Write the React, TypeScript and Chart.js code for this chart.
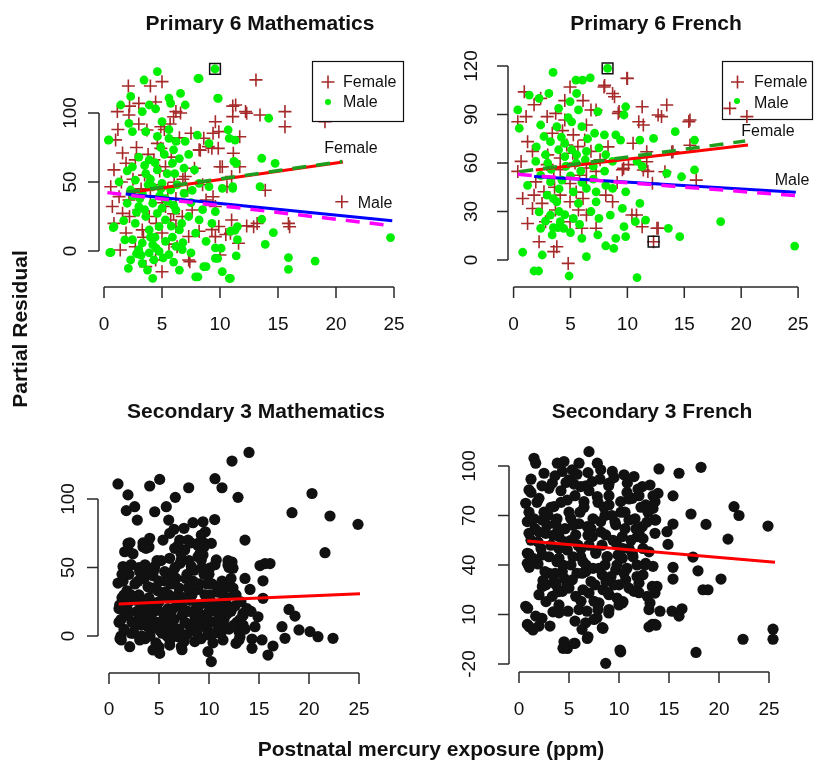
import React, { useEffect, useRef } from "react";
import { Chart, registerables } from "chart.js";
Chart.register(...registerables);

// ---------------- DATA ----------------
const xTicks = [0, 5, 10, 15, 20, 25];
const p6MathYTicks = [0, 50, 100];
const p6FrenchYTicks = [0, 30, 60, 90, 120];
const s3MathYTicks = [0, 50, 100];
const s3FrenchYTicks = [-20, 10, 40, 70, 100];

const panelTitles = ["Primary 6 Mathematics", "Primary 6 French", "Secondary 3 Mathematics", "Secondary 3 French"];
const yAxisTitle = "Partial Residual";
const xAxisTitle = "Postnatal mercury exposure (ppm)";
const legendLabels = ["Female", "Male"];

// Primary 6 Mathematics
const p6MathFemale = [
  [2.1, 119.6], [4.0, 119.6], [5.0, 122.7], [3.0, 107], [4.45, 108], [1.15, 101], [2.15, 98.6], [6.2, 101], [6.0, 97.3],
  [4.9, 90], [3.7, 87.7], [7.5, 85.3], [9.6, 93.7], [11.35, 105.8], [12.2, 101], [13.1, 124], [11.1, 97.4], [9.9, 86.5],
  [8.6, 81.7], [9.3, 74.5], [8.2, 73.3], [1.0, 80.5], [1.6, 71], [1.9, 63.6], [0.86, 58.8], [2.7, 66], [4.9, 74.4],
  [4.3, 66], [5.3, 61], [7.0, 54], [6.05, 49.8], [10.2, 61], [11.0, 53.9], [0.58, 46.6], [1.3, 39.4], [0.72, 32.2],
  [2.15, 37], [3.0, 29.7], [1.6, 27.3], [3.9, 25], [5.3, 32.2], [5.75, 22.5], [6.75, 25], [7.6, 29.7], [8.8, 37],
  [9.6, 32.2], [11.0, 22.5], [9.9, 17.7], [0.86, 20], [1.9, 13], [3.3, 15.3], [5.0, 13], [6.2, 17.7], [7.3, 10.5],
  [8.2, 14.3], [9.3, 15.5], [10.5, 12], [1.4, 0.7], [2.7, 3.1], [4.45, -6.5], [5.0, -15], [3.6, -11.3], [7.3, -6.5],
  [6.3, 3.1], [13.45, 98.5], [15.6, 101], [15.6, 90], [19.05, 93.7], [13.9, 44], [15.9, 20], [20.5, 35.7], [13.2, 20],
  [11.1, 105], [12.3, 99.8], [11.7, 82.8], [11.15, 70.8], [9.85, 74.4], [12.9, 17.6], [12.3, 18.2], [16.0, 17.6],
  [7.4, -7.7], [10, -2.9], [11.6, 5.6], [9.6, 10.4], [10.9, 12.8], [9.4, 39.3], [10.6, 46.6], [10, 61], [11.7, 61],
  [8.3, 73], [9.4, 85.3], [9.0, 75.6], [3.5, 55], [4.2, 48], [4.8, 58], [5.5, 45], [6.2, 38], [5.0, 35], [4.0, 40],
  [3.2, 45], [2.5, 52], [6.8, 52], [7.2, 44], [5.8, 68], [4.6, 78], [3.8, 70], [2.8, 75], [6.5, 82], [5.2, 88],
  [6.0, 27], [4.5, 20], [3.4, 10], [5.6, 5], [2.2, 25], [1.5, 50], [7.8, 60], [8.5, 48], [6.6, 100], [5.7, 92],
  [3.0, 92], [2.2, 105], [1.2, 88],
];
const p6MathMale = [
  [4.6, 130], [3.45, 123.9], [2.3, 112], [1.44, 105.8], [3.9, 105.8], [5.6, 110.8], [6.6, 114.2], [7.0, 105.8],
  [8.2, 125], [9.8, 110.8], [5.75, 107], [3.3, 101], [4.45, 103], [5.0, 93.7], [2.15, 92.5], [0.43, 80.5], [2.45, 86.5],
  [3.6, 86.5], [4.6, 83], [5.6, 81.6], [4.9, 75], [6.2, 79.5], [7.0, 79.5], [6.0, 73.3], [8.05, 84], [9.05, 78],
  [11.2, 65], [10.8, 81.6], [3.0, 68], [3.9, 66], [2.45, 61], [3.6, 56], [4.6, 58.8], [5.45, 56], [5.9, 63.6],
  [6.5, 67], [7.8, 58.8], [2.7, 51.4], [5.0, 49], [4.2, 46.6], [1.3, 50], [2.3, 44.2], [3.3, 41.8], [5.75, 44.2],
  [6.9, 41.8], [8.2, 49], [9.05, 46.6], [10.2, 45.4], [11.1, 46.6], [2.0, 34.6], [3.0, 32.2], [4.2, 34.6], [5.0, 31],
  [3.6, 25], [4.6, 27.3], [5.3, 22.5], [6.2, 29.7], [7.3, 25], [8.2, 22.5], [9.6, 28.5], [2.7, 20], [0.86, 17.7],
  [3.9, 15.3], [4.75, 17.7], [6.5, 15.3], [7.9, 13], [9.3, 20], [10.9, 14.3], [11.5, 17.7], [2.45, 8.2], [3.3, 5.8],
  [4.2, 4.6], [5.3, 7], [6.2, 3.4], [3.0, 1.0], [3.9, -1.4], [4.75, -0.2], [5.6, -2.6], [6.75, 1], [7.5, -1.4],
  [8.8, 7], [9.6, 2.2], [0.6, -1], [2.3, -6.5], [3.3, -8.9], [4.3, -6.5], [4.2, -19.8], [3.75, -13.8], [6.5, -13.8],
  [7.9, -18.7], [8.8, -11.3], [9.8, -5.3], [10.2, -15], [10.8, -19.8], [11.5, 8.2], [14.2, 96.2], [13.6, 67.2],
  [14.75, 63.5], [13.45, 46.6], [13.6, 23], [14.6, 13.3], [13.9, 4.8], [15.9, -4.8], [15.9, -13.3], [18.2, -7.3],
  [24.7, 9.7], [11.3, 80.4], [10.7, 87.7], [9.85, 110.6], [8.1, 125], [9.57, 131.9], [11.4, 63.5], [11.1, 45.4],
  [11.3, 15.2], [10.1, 2], [10.9, -19.8], [9.6, -5.3], [11.4, -3.5], [8.6, -11.4], [8.1, -18.7], [0.5, -1.2],
  [0.37, 80.4], [0.8, 16.9], [2.1, -12.6], [4.0, 52], [4.8, 40], [5.5, 36], [6.3, 48], [3.5, 62], [5.2, 70],
  [2.8, 28], [1.7, 22], [6.8, 6], [7.5, 35], [4.4, 10], [5.8, 18], [3.1, 38], [6.1, 56], [2.0, 58], [7.3, 70],
  [2.5, 40], [3.5, 30], [4.9, 45], [5.3, 38], [6.0, 33], [6.7, 20], [4.0, 10], [3.2, -3], [5.1, -5], [6.0, -8],
  [2.8, -2], [4.5, 2], [5.9, 10], [3.8, 48], [4.4, 64], [5.6, 88], [6.9, 60], [7.6, 44], [8.5, 30], [1.8, 8],
];
const p6MathFlagged = [[9.57, 131.9]];
const p6MathFemaleFit = [[1.9, 42], [20.6, 64.5]];
const p6MathFemaleFitAlt = [[1.9, 42.5], [20.55, 64.9]];
const p6MathMaleFit = [[1.87, 41.3], [24.85, 22]];
const p6MathMaleFitAlt = [[0.29, 42.3], [24.85, 18.3]];

// Primary 6 French
const p6FrenchFemale = [
  [0.94, 104], [2.38, 100], [1.8, 96], [4.96, 107], [8.0, 108], [8.7, 103], [10.0, 112.3], [11.3, 94.8], [12.7, 89.7],
  [4.5, 98.6], [6.1, 98.6], [3.7, 90.7], [1.1, 88.7], [0.37, 85.5], [2.95, 88.7], [4.5, 86.6], [6.4, 83.5], [7.25, 92.8],
  [9.27, 91.8], [11.0, 85.5], [1.23, 73.2], [3.4, 78.4], [5.25, 77.4], [6.25, 74.2], [4.67, 71.1], [5.65, 70.1],
  [6.8, 67.2], [1.66, 67.2], [0.66, 61], [2.95, 59], [4.1, 63.1], [5.4, 60], [6.4, 56.9], [4.1, 55.8], [7.25, 54.8],
  [9.56, 55.8], [10.1, 59], [11.8, 54.8], [1.95, 48.3], [3.53, 50.4], [4.96, 47.3], [5.8, 52.4], [6.4, 49.4], [0.8, 38],
  [1.8, 40.1], [2.67, 42.2], [4.1, 40.1], [4.96, 36], [6.1, 38], [8.1, 40.1], [8.7, 36], [1.66, 31.9], [3.68, 30.9],
  [5.7, 30.9], [6.4, 27.8], [10.4, 27.8], [1.23, 22.6], [2.81, 23.7], [4.96, 23.7], [6.0, 19.6], [7.25, 19.6],
  [11.3, 20.6], [12.6, 19.6], [2.24, 11.3], [3.8, 8.2], [3.53, 5.2], [4.8, -2.1], [0.37, 54.8], [13.46, 95.9],
  [13.0, 88.7], [15.5, 86.6], [19.0, 93.8], [20.5, 88.7], [13.9, 66.8], [15.5, 71], [13.3, 54.6], [16.05, 49.4],
  [12.7, 19.6], [15.4, 85.6], [11.4, 83.5], [11.4, 55.7], [12.2, 47.4], [10.8, 27.8], [9.96, 112.4], [7.95, 107],
  [8.87, 101], [6.8, 92.8], [9.2, 90.7], [9.67, 56.7], [10.5, 72.2], [11.7, 67], [11.7, 60.8], [14.0, 67], [12.3, 11.3],
  [3.0, 65], [4.3, 80], [5.2, 66], [3.6, 45], [5.5, 42], [2.5, 35], [7.6, 62], [8.3, 70], [9.1, 48],
];
const p6FrenchMale = [
  [3.47, 116], [5.48, 111.3], [6.06, 111.3], [6.74, 112.7], [8.26, 118.5], [1.38, 102], [2.24, 100], [3.1, 103],
  [5.54, 103], [3.96, 93.8], [4.96, 98], [5.7, 92.8], [0.37, 92.8], [7.4, 91.8], [9.85, 94.8], [9.7, 89.7], [0.5, 81.5],
  [2.38, 83.5], [3.8, 82.5], [5.1, 85.5], [6.0, 82.5], [7.12, 78.4], [7.98, 77.4], [8.98, 77.4], [9.4, 74.2],
  [11.1, 74.2], [12.3, 75.2], [2.67, 76.4], [3.24, 73.2], [4.5, 72.2], [3.96, 68.2], [5.1, 68.2], [5.54, 65.1],
  [6.4, 67.2], [7.5, 69.3], [8.1, 65.1], [1.95, 61], [2.81, 65.1], [8.7, 61], [10.85, 61], [11.3, 57.9], [1.23, 46.2],
  [2.38, 52.4], [3.24, 48.3], [4.25, 49.4], [5.25, 42.2], [6.4, 44.3], [7.25, 42.2], [8.1, 46.2], [8.7, 44.3],
  [9.85, 42.2], [2.95, 40.1], [3.8, 36], [5.7, 35], [7.25, 36], [9.56, 31.9], [11.1, 35], [2.24, 29.8], [3.24, 27.8],
  [4.1, 23.7], [5.25, 25.7], [7.5, 25.7], [8.5, 27.8], [9.7, 20.6], [10.7, 23.7], [11.6, 24.7], [2.38, 19.6],
  [3.39, 15.5], [4.4, 19.6], [6.0, 13.4], [7.4, 15.5], [8.98, 13.4], [9.85, 14.4], [2.52, 3.1], [0.8, 4.8], [6.4, 2.1],
  [8.1, 8.8], [8.8, 7.2], [1.8, -6.8], [2.2, -6.8], [4.88, -9.9], [10.85, -10.9], [14.2, 79.4], [15.9, 74.2],
  [13.46, 53.6], [14.76, 51.5], [15.9, 55.7], [13.6, 19.6], [14.6, 14.4], [18.2, 23.7], [24.7, 8.6], [4.6, 58],
  [3.3, 56], [5.9, 55], [4.0, 30], [6.8, 30], [2.0, 70], [4.8, 88], [7.0, 50], [3.5, 20], [5.0, 17],
  [3.0, 60], [4.5, 64], [5.5, 60], [6.3, 62], [4.0, 44], [5.0, 52], [6.0, 48], [3.5, 38], [4.5, 28], [5.8, 22],
  [2.8, 24], [3.9, 20], [7.0, 58], [8.0, 55], [6.5, 75], [4.2, 76],
];
const p6FrenchFlagged = [[8.26, 118.5], [12.3, 11.3]];
const p6FrenchFemaleFit = [[1.95, 55.7], [20.6, 71.1]];
const p6FrenchFemaleFitAlt = [[0.5, 54.6], [20.35, 73.6]];
const p6FrenchMaleFit = [[1.8, 51.6], [24.8, 41.9]];
const p6FrenchMaleFitAlt = [[0.37, 53], [24.8, 39.8]];

// Secondary 3 Mathematics
const s3MathPoints = [
  [0.9, 111], [1.9, 103], [1.73, 91.5], [2.57, 94.4], [2.83, 84.6], [4.07, 109.5], [5.07, 114.3], [4.57, 90.7],
  [5.73, 94.4], [5.97, 84.6], [6.63, 101.2], [7.97, 108.2], [6.5, 77.9], [7.5, 78.6], [8.4, 82.7], [9.4, 83.4],
  [9.63, 76.1], [10.57, 85], [10.6, 114.8], [11.3, 108.2], [12.3, 127.7], [12.9, 101.2], [13.6, 70], [14.0, 134],
  [20.3, 104], [18.3, 90], [22.1, 87.6], [24.9, 81.5], [21.6, 60.8], [15.1, 51.4], [15.6, 52.9], [16.1, 52.9],
  [13.6, 42], [14.1, 34], [15.4, 40.3], [15.4, 27.5], [13.4, 16.5], [14.9, 14], [18.0, 19.4], [18.6, 14.5],
  [17.3, 6.8], [14.6, 6.8], [19.0, 4.4], [20.1, 3.2], [20.9, -0.5], [22.4, -1.7], [17.6, -1.7], [14.3, -2.2],
  [15.3, -2.9], [16.4, -7.3], [15.9, -13.9], [14.3, -9], [13.1, -0.5], [13.4, 8], [1.57, 61.5], [1.9, 67.6],
  [3.4, 65.2], [4.07, 71.3], [6.07, 74.9], [7.07, 70], [7.9, 70], [8.9, 67.6], [9.23, 73.7], [9.57, 67.6],
  [10.23, 67.6], [6.57, 64], [7.57, 62.8], [8.9, 57.9], [9.4, 59.1], [0.9, 38.6], [1.07, 22.7], [1.4, 50.7],
  [2.23, 51.9], [3.07, 47], [3.73, 45.8], [4.57, 50.7], [5.57, 47], [6.07, 56.7], [7.23, 55.5], [8.23, 50.7],
  [9.23, 55.5], [10.73, 55.5], [11.9, 51.9], [12.4, 49.5], [10.07, 49.5], [11.9, 38.6], [10.9, 36.1], [1.23, -2.9],
  [2.07, -7.8], [3.07, -2.9], [4.4, -10.2], [5.07, -12.7], [6.07, -6.6], [7.23, -7.8], [8.57, -4.1], [10.23, -18.7],
  [9.9, -11.4], [11.4, -2.9], [12.7, -5.4], [2.23, 2], [3.9, 6.8], [5.57, 3.2], [6.9, -0.5], [8.57, 4.4], [9.9, 0.8],
  [11.6, 6.8], [13.0, 3.2], [1.0, 20], [1.0, 10], [1.2, 0], [1.3, 28], [1.5, 5], [1.6, 15], [1.8, 33], [2.0, 45],
  [2.2, 52], [2.0, 25], [2.3, 10], [2.5, 2], [2.6, 38], [2.8, 18], [3.0, 30], [3.0, 50], [3.2, 8], [3.3, 22],
  [3.5, 42], [3.6, -2], [3.8, 14], [4.0, 28], [4.0, 65], [4.2, 5], [4.3, 35], [4.5, 48], [4.5, 18], [4.7, -5],
  [4.8, 10], [5.0, 25], [5.0, 40], [5.2, 55], [5.3, 2], [5.5, 15], [5.6, 32], [5.8, 45], [5.9, 20], [6.0, 8],
  [6.1, -3], [6.2, 38], [6.3, 28], [6.5, 12], [6.6, 50], [6.8, 22], [7.0, 5], [7.0, 35], [7.2, 60], [7.3, 15],
  [7.5, -4], [7.5, 28], [7.7, 42], [7.9, 18], [8.0, 8], [8.2, 68], [8.3, 30], [8.5, 48], [8.6, 12], [8.8, 2],
  [9.0, 22], [9.0, 38], [9.2, -2], [9.4, 15], [9.5, 65], [9.6, 30], [9.8, 5], [10.0, 45], [10.0, 18], [10.2, 25],
  [10.4, -5], [10.5, 10], [10.6, 52], [10.8, 32], [11.0, 20], [11.2, 2], [11.3, 40], [11.5, 12], [11.7, 28],
  [12.0, 50], [12.0, 5], [12.2, 18], [12.4, 35], [12.6, 22], [12.8, 10], [13.0, -3], [13.2, 25], [13.4, 15],
  [13.6, 5], [13.8, 20], [14.2, 18], [1.1, -2], [1.4, 40], [2.4, 60], [3.4, 68], [5.4, 70], [6.9, 66], [8.9, 66],
  [9.3, 50], [6.4, 47], [7.1, 53], [11.9, 55], [12.3, 54], [9.1, 60], [3.7, 64], [4.4, 44], [2.1, 68], [1.9, 63],
  [1.5, 30], [2.7, 26], [3.9, 20], [5.2, 10], [6.4, 20], [7.6, 10], [8.7, 20], [9.9, 12], [11.1, 14], [12.5, 30],
  [4.9, 33], [6.0, 30], [7.2, 22], [8.4, 40], [10.3, 38], [2.9, 12], [4.1, 0], [5.8, 0], [7.8, 1], [10.8, 22],
  [1.2, 12], [1.8, 20], [2.2, 30], [2.6, 8], [3.1, 16], [3.5, 26], [3.9, 36], [4.3, 12], [4.6, 24], [5.1, 4],
  [5.4, 28], [5.7, 40], [6.2, 15], [6.6, 3], [6.9, 30], [7.4, 20], [7.8, 45], [8.1, 26], [8.5, 16], [8.9, 34],
  [9.3, 8], [9.7, 24], [10.1, 30], [10.6, 18], [11.0, 8], [11.4, 26], [11.8, 16], [12.2, 42], [12.7, 30], [13.1, 12],
  [1.3, 45], [2.9, 40], [4.8, 55], [6.7, 42], [8.0, 55], [9.5, 45], [11.5, 34], [3.3, 0], [5.0, -8], [7.3, -10],
  [9.0, 12], [10.5, 2], [12.5, 8], [2.0, 17], [3.6, 52], [4.9, 19], [6.3, 9], [7.9, 35], [9.8, 38], [11.9, 22],
];
const s3MathFit = [[0.97, 23.4], [25.1, 30.9]];

// Secondary 3 French
const s3FrenchPoints = [
  [1.5, 104.7], [1.67, 101.7], [3.83, 101.7], [4.5, 102.7], [6.0, 101.7], [7.0, 108.7], [7.83, 101.7], [2.5, 95.6],
  [4.33, 96.7], [5.33, 97.7], [8.17, 97.7], [9.33, 96.7], [10.5, 94.7], [11.5, 93.6], [1.0, 85.5], [3.33, 89.6],
  [5.0, 91.6], [6.17, 87.5], [7.33, 90.6], [9.0, 89.6], [10.83, 89.6], [12.33, 87.5], [0.67, 77.4], [2.0, 80.4],
  [3.5, 75.4], [4.83, 79.4], [6.5, 78.4], [7.83, 81.4], [9.0, 76.4], [10.17, 78.4], [11.33, 80.4], [12.67, 76.4],
  [0.83, 66.3], [2.33, 67.3], [3.67, 65.3], [5.17, 68.3], [6.83, 63.3], [8.17, 66.3], [9.67, 64.3], [11.0, 67.3],
  [12.33, 63.3], [13.67, 67.3], [1.0, 59.2], [2.67, 59.2], [4.0, 57.2], [5.67, 58.2], [7.33, 57.2], [8.67, 58.2],
  [10.33, 57.2], [11.83, 57.2], [0.83, 47.1], [0.83, 41], [2.33, 46.1], [4.0, 44.1], [4.83, 49.1], [6.17, 45.1],
  [7.67, 47.1], [8.83, 45.1], [10.33, 44.1], [11.33, 47.1], [12.67, 41], [3.0, 35], [4.33, 36], [5.33, 31],
  [6.67, 36], [8.33, 34], [9.67, 37], [10.67, 31], [12.0, 29], [13.33, 27], [2.33, 27], [3.33, 21], [4.33, 24],
  [5.67, 21], [7.0, 23], [8.0, 17], [9.0, 22], [10.33, 17], [12.83, 21], [0.67, 15], [1.67, 9], [0.83, 4], [2.0, 3],
  [4.0, 11], [6.0, 13], [6.67, 5], [7.5, 7], [8.33, 2], [9.0, 13], [13.0, 13], [13.33, 4], [4.5, -6.5], [4.83, -10.6],
  [5.5, -7.5], [6.83, -4.5], [10.17, -12.6], [8.67, -19.6], [14.0, 98.2], [16.0, 95.6], [18.2, 99.2], [13.1, 88.5],
  [13.9, 83.4], [13.6, 78.4], [15.4, 81.9], [13.4, 74.3], [17.2, 70.9], [13.6, 67.3], [15.4, 64.8], [14.8, 60.2],
  [13.6, 59.2], [21.5, 75.4], [22.0, 70], [18.7, 64.6], [24.9, 63.6], [20.9, 55.7], [14.9, 52.5], [17.4, 44.8],
  [13.4, 39.2], [15.4, 38.6], [15.4, 31.5], [17.9, 36.5], [20.2, 31.5], [18.4, 25], [18.9, 25], [13.8, 27],
  [13.6, 23], [13.1, 17], [14.1, 12], [15.3, 12], [16.3, 13.5], [16.0, 9], [13.6, 4], [17.7, -13], [22.4, -5],
  [25.4, 1.1], [25.4, -5], [1.2, 84], [3.0, 86.5], [4.2, 85], [5.5, 89], [6.7, 88], [8.97, 88], [11.9, 86],
  [13.4, 81.9], [1.03, 38.6], [0.97, 46.8], [1.9, 40.6], [2.7, 28], [2.4, 30.6], [3.9, 23.8], [2.7, 17.8], [3.4, 11.6],
  [4.0, 15.8], [2.3, 7.7], [1.4, 0.6], [1.03, 2.6], [0.87, 13.8], [10.0, 15.8], [10.4, 17.8], [8.97, 10.9],
  [8.9, 23.2], [12.0, 23.2], [8.4, 1.6], [6.9, -3.5], [5.6, -7.5], [4.4, -10.5], [10.1, -11.5], [13.0, 2.5],
  [13.7, 3.5], [1.0, 72], [1.2, 55], [1.5, 68], [1.8, 78], [2.0, 60], [2.2, 50], [2.5, 72], [2.8, 64], [3.0, 45],
  [3.2, 75], [3.4, 58], [3.6, 35], [3.8, 68], [4.0, 50], [4.2, 78], [4.4, 40], [4.6, 62], [4.8, 28], [5.0, 72],
  [5.2, 55], [5.4, 45], [5.6, 82], [5.8, 35], [6.0, 65], [6.2, 50], [6.4, 25], [6.5, 75], [6.7, 40], [6.9, 58],
  [7.0, 85], [7.2, 30], [7.4, 68], [7.5, 18], [7.7, 48], [7.9, 78], [8.0, 38], [8.2, 60], [8.4, 25], [8.6, 70],
  [8.8, 45], [9.0, 82], [9.2, 33], [9.4, 55], [9.6, 66], [9.8, 40], [10.0, 28], [10.2, 72], [10.4, 50], [10.6, 62],
  [10.8, 38], [11.0, 80], [11.2, 55], [11.4, 45], [11.6, 68], [11.8, 33], [12.0, 60], [12.2, 75], [12.4, 50],
  [12.6, 40], [12.8, 66], [6.8, 12], [7.8, 8], [3.5, 30], [4.5, 32], [6.3, 35], [9.5, 28], [10.5, 35], [11.5, 24],
  [1.2, 92], [2.3, 88], [3.6, 94], [4.7, 90], [5.8, 95], [6.9, 96], [8.1, 92], [9.5, 93], [10.8, 84], [12.0, 82],
  [1.6, 62], [2.9, 70], [3.9, 62], [5.4, 64], [6.1, 72], [7.2, 62], [8.5, 75], [9.3, 70], [10.6, 72], [11.7, 62],
  [12.9, 72], [1.9, 54], [3.2, 52], [4.6, 54], [5.9, 52], [7.0, 52], [8.3, 52], [9.8, 52], [11.0, 50], [12.4, 56],
  [1.4, 44], [2.6, 36], [3.8, 42], [5.2, 40], [6.4, 42], [7.4, 38], [8.6, 40], [9.9, 46], [11.8, 40], [13.0, 48],
  [2.0, 22], [3.7, 28], [5.0, 26], [6.2, 18], [7.6, 28], [8.7, 30], [9.8, 20], [11.0, 26], [12.4, 34], [4.9, 12],
  [5.6, 6], [7.9, 13], [6.3, 1], [3.1, 3],
];
const s3FrenchFit = [[0.83, 54.5], [25.6, 41.6]];

// ---------------- STYLE / LAYOUT ----------------
const W = 816;
const H = 761;
const FONT = "'Liberation Sans', Arial, Helvetica, sans-serif";
const BROWN = "#A52A2A";
const GREEN = "#00EE00";

type Pair = number[];
const pts = (a: Pair[]) => a.map(([x, y]) => ({ x, y }));

interface Legend {
  box: [number, number, number, number];
  rows: { mx: number; my: number; tx: number; ty: number; kind: "cross" | "dot"; label: string }[];
  onTop: boolean;
}
interface Panel {
  key: string;
  left: number; right: number; top: number; bottom: number;
  xa: [number, number]; xv: [number, number];
  ya: [number, number]; yv: [number, number];
  yTicks: number[];
  yLabelX: number; xLabelY: number;
  title: string; titleX: number; titleY: number;
  datasets: any[];
  legend?: Legend;
  notes?: { text: string; x: number; y: number }[];
  globalText?: boolean;
}

const lineDs = (d: Pair[], color: string, width: number, dash: number[], order: number) => ({
  type: "line",
  data: pts(d),
  borderColor: color,
  borderWidth: width,
  borderDash: dash,
  pointRadius: 0,
  fill: false,
  tension: 0,
  order,
  clip: false,
});
const crossDs = (d: Pair[], order: number) => ({
  type: "scatter",
  data: pts(d),
  pointStyle: "cross",
  pointRadius: 6.5,
  borderColor: BROWN,
  borderWidth: 1.6,
  backgroundColor: BROWN,
  order,
  clip: false,
});
const dotDs = (d: Pair[], color: string, r: number, order: number) => ({
  type: "scatter",
  data: pts(d),
  pointStyle: "circle",
  pointRadius: r,
  borderWidth: 0,
  backgroundColor: color,
  borderColor: color,
  order,
  clip: false,
});
const squareDs = (d: Pair[], order: number) => ({
  type: "scatter",
  data: pts(d),
  pointStyle: "rect",
  pointRadius: 7.6,
  borderColor: "#111",
  borderWidth: 1.5,
  backgroundColor: "rgba(0,0,0,0)",
  order,
  clip: false,
});

const panels: Panel[] = [
  {
    key: "p6m", left: 99, right: 404, top: 55, bottom: 287,
    xa: [104, 394], xv: [0, 25], ya: [251, 113], yv: [0, 100],
    yTicks: p6MathYTicks, yLabelX: 71, xLabelY: 325,
    title: panelTitles[0], titleX: 260, titleY: 24,
    datasets: [
      crossDs(p6MathFemale, 9),
      dotDs(p6MathMale, GREEN, 4.4, 8),
      squareDs(p6MathFlagged, 7),
      lineDs(p6MathFemaleFit, "#FF0000", 3, [], 4),
      lineDs(p6MathFemaleFitAlt, "#1E9E1E", 3.5, [14, 10], 3),
      lineDs(p6MathMaleFit, "#0000FF", 3, [], 2),
      lineDs(p6MathMaleFitAlt, "#FF00FF", 3.5, [14, 10], 1),
    ],
    legend: {
      box: [312, 61, 404, 122], onTop: true,
      rows: [
        { mx: 328, my: 82, tx: 343, ty: 82, kind: "cross", label: legendLabels[0] },
        { mx: 328, my: 102, tx: 343, ty: 102, kind: "dot", label: legendLabels[1] },
      ],
    },
    notes: [{ text: "Female", x: 351, y: 149 }, { text: "Male", x: 375, y: 204 }],
    globalText: true,
  },
  {
    key: "p6f", left: 508, right: 813, top: 55, bottom: 287,
    xa: [513.7, 804], xv: [0, 25], ya: [260, 66], yv: [0, 120],
    yTicks: p6FrenchYTicks, yLabelX: 471.5, xLabelY: 325,
    title: panelTitles[1], titleX: 656, titleY: 24,
    datasets: [
      crossDs(p6FrenchFemale, 9),
      dotDs(p6FrenchMale, GREEN, 4.4, 8),
      squareDs(p6FrenchFlagged, 7),
      lineDs(p6FrenchFemaleFit, "#FF0000", 3, [], 4),
      lineDs(p6FrenchFemaleFitAlt, "#1E9E1E", 3.5, [14, 10], 3),
      lineDs(p6FrenchMaleFit, "#0000FF", 3, [], 2),
      lineDs(p6FrenchMaleFitAlt, "#FF00FF", 3.5, [14, 10], 1),
    ],
    legend: {
      box: [722, 61, 813, 120], onTop: false,
      rows: [
        { mx: 737.5, my: 82, tx: 754, ty: 82, kind: "cross", label: legendLabels[0] },
        { mx: 737, my: 101, tx: 754, ty: 103, kind: "dot", label: legendLabels[1] },
      ],
    },
    notes: [{ text: "Female", x: 768, y: 132 }, { text: "Male", x: 792, y: 181 }],
  },
  {
    key: "s3m", left: 98, right: 372, top: 430, bottom: 673,
    xa: [109, 359], xv: [0, 25], ya: [636, 499], yv: [0, 100],
    yTicks: s3MathYTicks, yLabelX: 69, xLabelY: 710,
    title: panelTitles[2], titleX: 256, titleY: 412,
    datasets: [dotDs(s3MathPoints, "#111", 5.6, 5), lineDs(s3MathFit, "#FF0000", 3, [], 1)],
  },
  {
    key: "s3f", left: 509, right: 782, top: 430, bottom: 672,
    xa: [519, 769], xv: [0, 25], ya: [664, 466], yv: [-20, 100],
    yTicks: s3FrenchYTicks, yLabelX: 469.5, xLabelY: 710,
    title: panelTitles[3], titleX: 652, titleY: 412,
    datasets: [dotDs(s3FrenchPoints, "#111", 5.6, 5), lineDs(s3FrenchFit, "#FF0000", 3, [], 1)],
  },
];

function drawLegend(ctx: CanvasRenderingContext2D, lg: Legend) {
  const [x0, y0, x1, y1] = lg.box;
  ctx.save();
  ctx.fillStyle = "#fff";
  ctx.fillRect(x0, y0, x1 - x0, y1 - y0);
  ctx.strokeStyle = "#111";
  ctx.lineWidth = 1.2;
  ctx.strokeRect(x0 + 0.5, y0 + 0.5, x1 - x0 - 1, y1 - y0 - 1);
  ctx.font = `16px ${FONT}`;
  ctx.textBaseline = "middle";
  ctx.textAlign = "left";
  for (const r of lg.rows) {
    if (r.kind === "cross") {
      ctx.strokeStyle = BROWN;
      ctx.lineWidth = 1.6;
      ctx.beginPath();
      ctx.moveTo(r.mx - 6.5, r.my);
      ctx.lineTo(r.mx + 6.5, r.my);
      ctx.moveTo(r.mx, r.my - 6.5);
      ctx.lineTo(r.mx, r.my + 6.5);
      ctx.stroke();
    } else {
      ctx.fillStyle = GREEN;
      ctx.beginPath();
      ctx.arc(r.mx, r.my, 3, 0, Math.PI * 2);
      ctx.fill();
    }
    ctx.fillStyle = "#111";
    ctx.fillText(r.label, r.tx, r.ty + 1);
  }
  ctx.restore();
}

function makePlugin(p: Panel) {
  return {
    id: "rbase_" + p.key,
    beforeDatasetsDraw(chart: any) {
      if (p.legend && !p.legend.onTop) drawLegend(chart.ctx, p.legend);
    },
    afterDatasetsDraw(chart: any) {
      if (p.legend && p.legend.onTop) drawLegend(chart.ctx, p.legend);
    },
    afterDraw(chart: any) {
      const ctx: CanvasRenderingContext2D = chart.ctx;
      const xs = chart.scales.x;
      const ys = chart.scales.y;
      const ax = chart.chartArea.left;
      const ay = chart.chartArea.bottom;
      const tick = 11;
      ctx.save();
      ctx.strokeStyle = "#2a2a2a";
      ctx.lineWidth = 1.5;
      ctx.lineCap = "butt";
      const yA = ys.getPixelForValue(p.yTicks[0]);
      const yB = ys.getPixelForValue(p.yTicks[p.yTicks.length - 1]);
      ctx.beginPath();
      ctx.moveTo(ax, yA);
      ctx.lineTo(ax, yB);
      for (const t of p.yTicks) {
        const py = ys.getPixelForValue(t);
        ctx.moveTo(ax, py);
        ctx.lineTo(ax - tick, py);
      }
      ctx.stroke();
      const xA = xs.getPixelForValue(xTicks[0]);
      const xB = xs.getPixelForValue(xTicks[xTicks.length - 1]);
      ctx.beginPath();
      ctx.moveTo(xA, ay);
      ctx.lineTo(xB, ay);
      for (const t of xTicks) {
        const px = xs.getPixelForValue(t);
        ctx.moveTo(px, ay);
        ctx.lineTo(px, ay + tick);
      }
      ctx.stroke();
      ctx.fillStyle = "#111";
      ctx.font = `19px ${FONT}`;
      ctx.textAlign = "center";
      ctx.textBaseline = "middle";
      for (const t of xTicks) {
        ctx.fillText(String(t), xs.getPixelForValue(t), p.xLabelY);
      }
      for (const t of p.yTicks) {
        const py = ys.getPixelForValue(t);
        ctx.save();
        ctx.translate(p.yLabelX, py);
        ctx.rotate(-Math.PI / 2);
        ctx.fillText(String(t), 0, 0);
        ctx.restore();
      }
      ctx.font = `bold 21px ${FONT}`;
      ctx.fillText(p.title, p.titleX, p.titleY);
      if (p.notes) {
        ctx.font = `16px ${FONT}`;
        for (const n of p.notes) ctx.fillText(n.text, n.x, n.y);
      }
      if (p.globalText) {
        ctx.font = `bold 21px ${FONT}`;
        ctx.fillText(xAxisTitle, 431, 750);
        ctx.save();
        ctx.translate(21, 329);
        ctx.rotate(-Math.PI / 2);
        ctx.fillText(yAxisTitle, 0, 0);
        ctx.restore();
      }
      ctx.restore();
    },
  };
}

function scaleRange(p: Panel) {
  const xPer = (p.xv[1] - p.xv[0]) / (p.xa[1] - p.xa[0]);
  const yPer = (p.yv[1] - p.yv[0]) / (p.ya[1] - p.ya[0]);
  return {
    xmin: p.xv[0] + (p.left - p.xa[0]) * xPer,
    xmax: p.xv[0] + (p.right - p.xa[0]) * xPer,
    ymin: p.yv[0] + (p.bottom - p.ya[0]) * yPer,
    ymax: p.yv[0] + (p.top - p.ya[0]) * yPer,
  };
}

function PanelCanvas({ panel }: { panel: Panel }) {
  const ref = useRef<HTMLCanvasElement | null>(null);
  useEffect(() => {
    if (!ref.current) return;
    const r = scaleRange(panel);
    const chart = new Chart(ref.current, {
      type: "scatter",
      data: { datasets: panel.datasets as any },
      options: {
        animation: false,
        responsive: false,
        devicePixelRatio: 1,
        events: [],
        layout: {
          padding: { left: panel.left, top: panel.top, right: W - panel.right, bottom: H - panel.bottom },
        },
        plugins: { legend: { display: false }, tooltip: { enabled: false }, title: { display: false } },
        scales: {
          x: { type: "linear", display: false, min: r.xmin, max: r.xmax },
          y: { type: "linear", display: false, min: r.ymin, max: r.ymax },
        },
      } as any,
      plugins: [makePlugin(panel)],
    });
    return () => chart.destroy();
  }, [panel]);
  return (
    <canvas
      ref={ref}
      width={W}
      height={H}
      style={{ position: "absolute", left: 0, top: 0, width: W, height: H }}
    />
  );
}

export default function App() {
  return (
    <div style={{ position: "absolute", left: 0, top: 0, width: W, height: H, background: "#fff", overflow: "hidden" }}>
      {panels.map((p) => (
        <PanelCanvas key={p.key} panel={p} />
      ))}
    </div>
  );
}
